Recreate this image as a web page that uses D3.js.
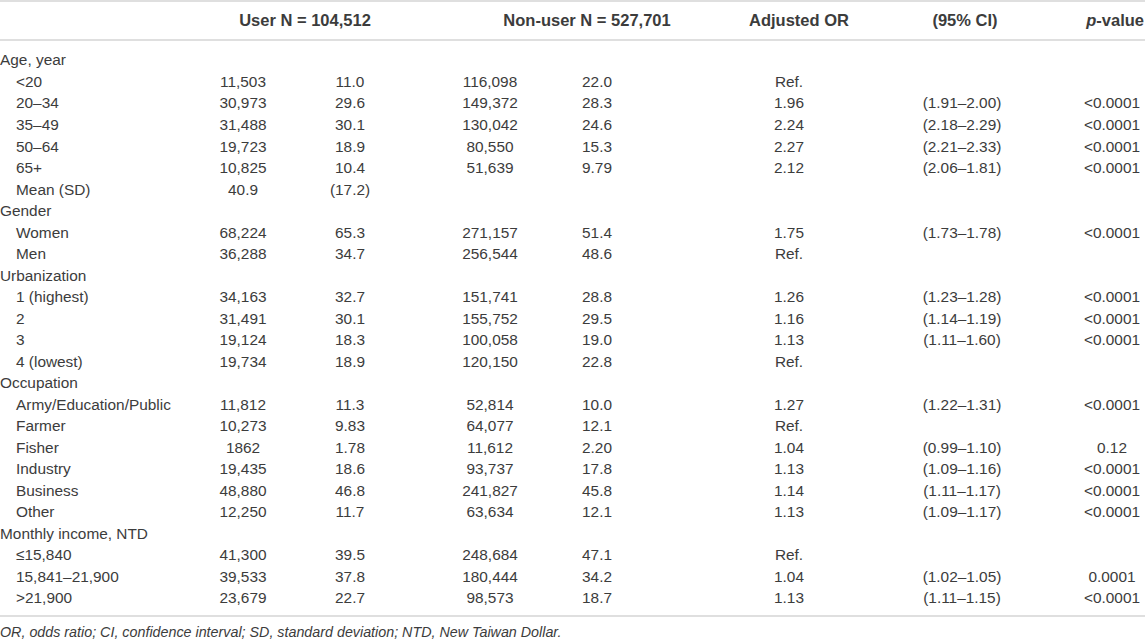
<!DOCTYPE html>
<html><head><meta charset="utf-8">
<script src="https://cdn.jsdelivr.net/npm/d3@7"></script>
<style>
html,body{margin:0;padding:0;background:#fff;}
svg{display:block;font-family:"Liberation Sans",Arial,Helvetica,sans-serif;}
</style></head>
<body>
<script>
// ---- data ----
const headers = ["", "User N = 104,512", "Non-user N = 527,701", "Adjusted OR", "(95% CI)", "p-value"];
const rowLabels = ["Age, year","<20","20–34","35–49","50–64","65+","Mean (SD)",
  "Gender","Women","Men",
  "Urbanization","1 (highest)","2","3","4 (lowest)",
  "Occupation","Army/Education/Public","Farmer","Fisher","Industry","Business","Other",
  "Monthly income, NTD","≤15,840","15,841–21,900",">21,900"];
const isGroup = [1,0,0,0,0,0,0, 1,0,0, 1,0,0,0,0, 1,0,0,0,0,0,0, 1,0,0,0];
const userN   = ["","11,503","30,973","31,488","19,723","10,825","40.9","","68,224","36,288","","34,163","31,491","19,124","19,734","","11,812","10,273","1862","19,435","48,880","12,250","","41,300","39,533","23,679"];
const userPct = ["","11.0","29.6","30.1","18.9","10.4","(17.2)","","65.3","34.7","","32.7","30.1","18.3","18.9","","11.3","9.83","1.78","18.6","46.8","11.7","","39.5","37.8","22.7"];
const nonN    = ["","116,098","149,372","130,042","80,550","51,639","","","271,157","256,544","","151,741","155,752","100,058","120,150","","52,814","64,077","11,612","93,737","241,827","63,634","","248,684","180,444","98,573"];
const nonPct  = ["","22.0","28.3","24.6","15.3","9.79","","","51.4","48.6","","28.8","29.5","19.0","22.8","","10.0","12.1","2.20","17.8","45.8","12.1","","47.1","34.2","18.7"];
const adjOR   = ["","Ref.","1.96","2.24","2.27","2.12","","","1.75","Ref.","","1.26","1.16","1.13","Ref.","","1.27","Ref.","1.04","1.13","1.14","1.13","","Ref.","1.04","1.13"];
const ci95    = ["","","(1.91–2.00)","(2.18–2.29)","(2.21–2.33)","(2.06–1.81)","","","(1.73–1.78)","","","(1.23–1.28)","(1.14–1.19)","(1.11–1.60)","","","(1.22–1.31)","","(0.99–1.10)","(1.09–1.16)","(1.11–1.17)","(1.09–1.17)","","","(1.02–1.05)","(1.11–1.15)"];
const pValue  = ["","","<0.0001","<0.0001","<0.0001","<0.0001","","","<0.0001","","","<0.0001","<0.0001","<0.0001","","","<0.0001","","0.12","<0.0001","<0.0001","<0.0001","","","0.0001","<0.0001"];
const footnote = "OR, odds ratio; CI, confidence interval; SD, standard deviation; NTD, New Taiwan Dollar.";

// ---- layout ----
const W = 1145, H = 639;
const textColor = "#3c3c3c", lineColor = "#d4d4d4";
const svg = d3.select("body").append("svg").attr("width", W).attr("height", H);

const y = d3.scaleBand().domain(d3.range(rowLabels.length)).range([49.3, 608.7]).paddingInner(0);
const rowY = i => y(i) + y.bandwidth()/2;

const colKeys = ["userN","userPct","nonN","nonPct","adjOR","ci95","pValue"];
const colData = {userN, userPct, nonN, nonPct, adjOR, ci95, pValue};
const colX = d3.scaleOrdinal().domain(colKeys).range([243, 350, 490, 597, 789, 962, 1112]);
const headX = d3.scaleOrdinal().domain(headers.slice(1)).range([305, 587, 799, 965, 1144]);
const headAnchor = d => d === "p-value" ? "end" : "middle";

// rules
const rules = [1, 40, 616];
svg.selectAll("line.rule").data(rules).join("line")
  .attr("x1", 0).attr("x2", W).attr("y1", d => d).attr("y2", d => d)
  .attr("stroke", lineColor).attr("stroke-width", 1.6);

// headers
const hdr = svg.selectAll("text.hdr").data(headers.slice(1)).join("text")
  .attr("class","hdr")
  .attr("x", d => headX(d)).attr("y", 20).attr("dy","0.35em")
  .attr("text-anchor", headAnchor).attr("font-size",16.5).attr("font-weight","bold")
  .attr("fill", textColor);
hdr.each(function(d){
  const t = d3.select(this);
  if (d === "p-value") {
    t.append("tspan").attr("font-style","italic").text("p");
    t.append("tspan").text("-value");
  } else t.text(d);
});

// row labels
svg.selectAll("text.lab").data(rowLabels).join("text")
  .attr("class","lab")
  .attr("x", (d,i) => isGroup[i] ? 0 : 16)
  .attr("y", (d,i) => rowY(i)).attr("dy","0.35em")
  .attr("font-size",15.4).attr("fill",textColor)
  .text(d => d);

// data columns
colKeys.forEach(k => {
  svg.append("g").selectAll("text").data(colData[k]).join("text")
    .attr("x", colX(k)).attr("y", (d,i) => rowY(i)).attr("dy","0.35em")
    .attr("text-anchor","middle").attr("font-size",15.4).attr("fill",textColor)
    .text(d => d);
});

// footnote
svg.append("text").attr("x",0).attr("y",632).attr("dy","0.35em")
  .attr("font-size",14.3).attr("font-style","italic").attr("fill",textColor)
  .text(footnote);
</script>
</body></html>
